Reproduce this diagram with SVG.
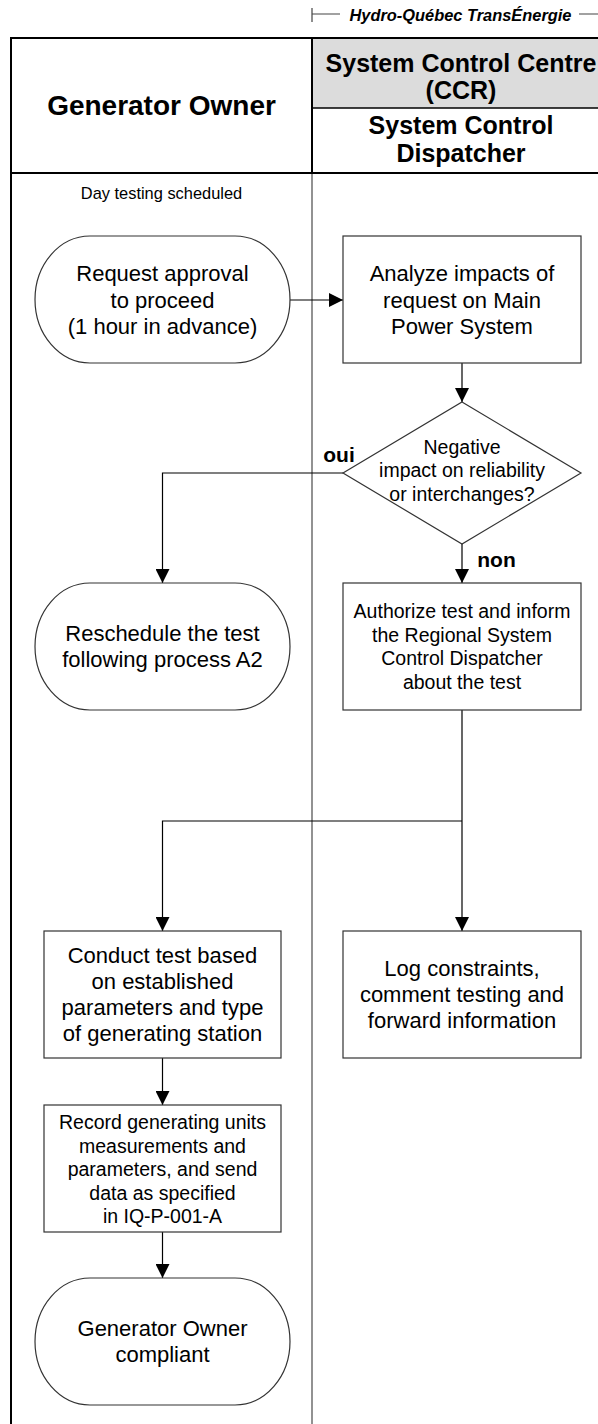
<svg xmlns="http://www.w3.org/2000/svg" width="598" height="1424" viewBox="0 0 598 1424">
  <style>
    text { font-family: "Liberation Sans", Arial, sans-serif; fill: #000; text-anchor: middle; }
    .hdr { font-weight: bold; }
    .t22 { font-size: 22px; }
    .t19 { font-size: 19.5px; }
    .lbl { font-weight: bold; font-size: 21px; }
    .shape { fill: #fff; stroke: #333; stroke-width: 1.2; }
    .conn { fill: none; stroke: #000; stroke-width: 1.2; }
    .frame { stroke: #000; stroke-width: 2; fill: none; }
    .lane { stroke: #777; stroke-width: 1.6; fill: none; }
  </style>
  <defs>
    <marker id="arrow" viewBox="0 0 14 14" refX="14" refY="7" markerWidth="14" markerHeight="14" markerUnits="userSpaceOnUse" orient="auto">
      <path d="M0,0 L14,7 L0,14 Z" fill="#000"/>
    </marker>
  </defs>

  <rect width="598" height="1424" fill="#fff"/>

  <!-- Organisation banner -->
  <g id="banner">
    <path d="M312,8 V22 M312,14 H340 M579,14 H598" stroke="#444" stroke-width="1.2" fill="none"/>
    <text x="460.5" y="20.5" style="font-size:16.4px;font-weight:bold;font-style:italic">Hydro-Québec TransÉnergie</text>
  </g>

  <!-- Swimlanes -->
  <g id="lanes">
    <rect x="312" y="38" width="290" height="70" fill="#dcdcdc"/>
    <line class="lane" x1="312" y1="173" x2="312" y2="1424"/>
    <path class="frame" d="M11,1424 V38 H598 M11,173 H598 M312,38 V173"/>
    <line x1="312" y1="108" x2="598" y2="108" stroke="#000" stroke-width="1.6"/>
    <text class="hdr" x="161.5" y="115" style="font-size:28px">Generator Owner</text>
    <text class="hdr" x="461" y="72" style="font-size:25px">System Control Centre</text>
    <text class="hdr" x="461" y="99" style="font-size:25px">(CCR)</text>
    <text class="hdr" x="461" y="134" style="font-size:25px">System Control</text>
    <text class="hdr" x="461" y="162" style="font-size:25px">Dispatcher</text>
    <text x="161.5" y="199" style="font-size:16.4px">Day testing scheduled</text>
  </g>

  <!-- Connectors -->
  <g id="connectors">
    <line class="conn" x1="290" y1="300" x2="343" y2="300" marker-end="url(#arrow)"/>
    <line class="conn" x1="462" y1="363" x2="462" y2="402" marker-end="url(#arrow)"/>
    <path class="conn" d="M343,473 H162.5 V583" marker-end="url(#arrow)"/>
    <line class="conn" x1="462" y1="544" x2="462" y2="583" marker-end="url(#arrow)"/>
    <line class="conn" x1="462" y1="710" x2="462" y2="931" marker-end="url(#arrow)"/>
    <path class="conn" d="M462,821 H162.5 V931" marker-end="url(#arrow)"/>
    <line class="conn" x1="162.5" y1="1058" x2="162.5" y2="1105" marker-end="url(#arrow)"/>
    <line class="conn" x1="162.5" y1="1232" x2="162.5" y2="1278" marker-end="url(#arrow)"/>
    <text class="lbl" x="339" y="462">oui</text>
    <text class="lbl" x="496.5" y="567">non</text>
  </g>

  <g id="request">
    <rect class="shape" x="35" y="236" width="255" height="127" rx="55" ry="63.5"/>
    <text class="t22" x="162.5" y="281.2">Request approval</text>
    <text class="t22" x="162.5" y="307.7">to proceed</text>
    <text class="t22" x="162.5" y="334.2">(1 hour in advance)</text>
  </g>

  <g id="analyze">
    <rect class="shape" x="343" y="236" width="238" height="127"/>
    <text class="t22" x="462" y="281.2">Analyze impacts of</text>
    <text class="t22" x="462" y="307.7">request on Main</text>
    <text class="t22" x="462" y="334.2">Power System</text>
  </g>

  <g id="decision">
    <polygon class="shape" points="462,402 581,473 462,544 343,473"/>
    <text class="t19" x="462" y="453.5">Negative</text>
    <text class="t19" x="462" y="477">impact on reliability</text>
    <text class="t19" x="462" y="500.5">or interchanges?</text>
  </g>

  <g id="reschedule">
    <rect class="shape" x="35" y="583" width="255" height="127" rx="55" ry="63.5"/>
    <text class="t22" x="162.5" y="640.7">Reschedule the test</text>
    <text class="t22" x="162.5" y="666.7">following process A2</text>
  </g>

  <g id="authorize">
    <rect class="shape" x="343" y="583" width="238" height="127"/>
    <text class="t19" x="462" y="618">Authorize test and inform</text>
    <text class="t19" x="462" y="641.5">the Regional System</text>
    <text class="t19" x="462" y="665">Control Dispatcher</text>
    <text class="t19" x="462" y="688.5">about the test</text>
  </g>

  <g id="conduct">
    <rect class="shape" x="44" y="931" width="237" height="127"/>
    <text class="t22" x="162.5" y="963">Conduct test based</text>
    <text class="t22" x="162.5" y="989">on established</text>
    <text class="t22" x="162.5" y="1015">parameters and type</text>
    <text class="t22" x="162.5" y="1041">of generating station</text>
  </g>

  <g id="log">
    <rect class="shape" x="343" y="931" width="238" height="127"/>
    <text class="t22" x="462" y="976">Log constraints,</text>
    <text class="t22" x="462" y="1002">comment testing and</text>
    <text class="t22" x="462" y="1028">forward information</text>
  </g>

  <g id="record">
    <rect class="shape" x="44" y="1105" width="237" height="127"/>
    <text class="t19" x="162.5" y="1129">Record generating units</text>
    <text class="t19" x="162.5" y="1152.5">measurements and</text>
    <text class="t19" x="162.5" y="1176">parameters, and send</text>
    <text class="t19" x="162.5" y="1199.5">data as specified</text>
    <text class="t19" x="162.5" y="1223">in IQ-P-001-A</text>
  </g>

  <g id="compliant">
    <rect class="shape" x="35" y="1278" width="255" height="127" rx="55" ry="63.5"/>
    <text class="t22" x="162.5" y="1335.7">Generator Owner</text>
    <text class="t22" x="162.5" y="1361.7">compliant</text>
  </g>
</svg>
